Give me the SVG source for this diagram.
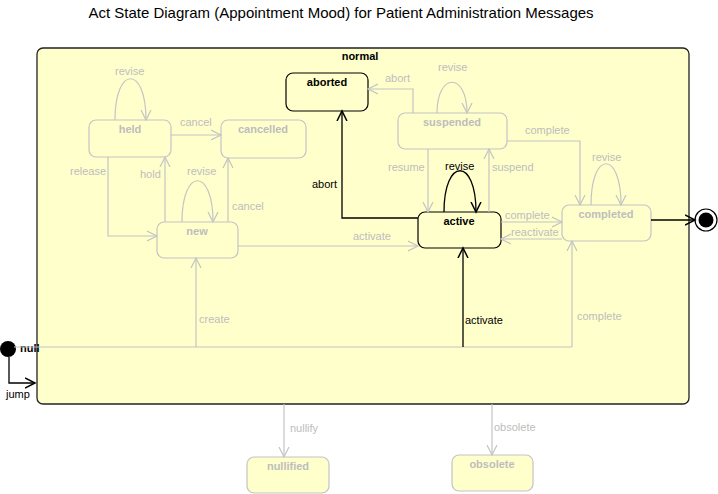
<svg xmlns="http://www.w3.org/2000/svg" width="718" height="494" viewBox="0 0 718 494">
<style>
text{font-family:"Liberation Sans",Arial,sans-serif;font-size:11px}
.t{font-size:15px;fill:#000}
.g{fill:#BDBDBD}
.k{fill:#000}
.sn{font-weight:bold;text-anchor:middle}
.st{fill:#FFFFCC;stroke:#C4C4C4;stroke-width:1.2}
.sb{fill:#FFFFCC;stroke:#000;stroke-width:1.2}
.eg{fill:none;stroke:#C4C4C4;stroke-width:1.2}
.ek{fill:none;stroke:#000;stroke-width:1.3}
.ag{marker-end:url(#ag)}
.ak{marker-end:url(#ak)}
</style>
<defs>
<marker id="ag" markerUnits="userSpaceOnUse" markerWidth="12" markerHeight="12" refX="10" refY="5" orient="auto" viewBox="0 0 12 10">
<path d="M0,0 L10,5 L0,10" fill="none" stroke="#C4C4C4" stroke-width="1.2"/>
</marker>
<marker id="ak" markerUnits="userSpaceOnUse" markerWidth="12" markerHeight="12" refX="10" refY="5" orient="auto" viewBox="0 0 12 10">
<path d="M0,0 L10,5 L0,10" fill="none" stroke="#000" stroke-width="1.5"/>
</marker>
</defs>
<rect width="718" height="494" fill="#fff"/>
<text class="t" x="341" y="18" text-anchor="middle">Act State Diagram (Appointment Mood) for Patient Administration Messages</text>
<g id="normal">
<rect x="37" y="48" width="652" height="356" rx="6" fill="#FFFFCC" stroke="#222" stroke-width="1.3"/>
<text class="k sn" x="360" y="60">normal</text>
</g>
<g id="held"><rect class="st" x="89" y="120" width="82" height="37" rx="7"/><text class="g sn" x="130" y="133">held</text></g>
<g id="cancelled"><rect class="st" x="221" y="120" width="85" height="38" rx="7"/><text class="g sn" x="263" y="133">cancelled</text></g>
<g id="new"><rect class="st" x="157" y="222" width="81" height="36" rx="7"/><text class="g sn" x="197" y="235">new</text></g>
<g id="aborted"><rect class="sb" x="286" y="73" width="82" height="38" rx="7"/><text class="k sn" x="327" y="86">aborted</text></g>
<g id="suspended"><rect class="st" x="398" y="113" width="109" height="36" rx="7"/><text class="g sn" x="452" y="126">suspended</text></g>
<g id="active"><rect class="sb" x="418" y="212" width="83" height="36" rx="7"/><text class="k sn" x="459" y="225">active</text></g>
<g id="completed"><rect class="st" x="562" y="205" width="89" height="36" rx="7"/><text class="g sn" x="606" y="218">completed</text></g>
<g id="nullified"><rect class="st" x="247" y="457" width="82" height="36" rx="7"/><text class="g sn" x="288" y="470">nullified</text></g>
<g id="obsolete"><rect class="st" x="452" y="455" width="81" height="36" rx="7"/><text class="g sn" x="492" y="468">obsolete</text></g>
<g id="initial"><circle cx="8" cy="349" r="8" fill="#000"/><text class="k" x="20" y="352" font-weight="bold">null</text></g>
<g id="final"><circle cx="706" cy="220" r="11" fill="#fff" stroke="#000" stroke-width="1.2"/><circle cx="706" cy="220" r="7.5" fill="#000"/></g>
<g id="connectors">
<path class="eg ag" d="M115,120 C115,65 146,65 146,120"/>
<path class="eg ag" d="M171,135 L221,135"/>
<path class="eg ag" d="M108,157 L108,236 L157,236"/>
<path class="eg ag" d="M165,222 L165,157"/>
<path class="eg ag" d="M182,222 C182,167 213,167 213,222"/>
<path class="eg ag" d="M228,222 L228,158"/>
<path class="eg ag" d="M238,246 L418,246"/>
<path class="ek ak" d="M418,218 L342,218 L342,111"/>
<path class="eg ag" d="M413,113 L413,89 L368,89"/>
<path class="eg ag" d="M437,113 C437,72 467,72 467,113"/>
<path class="eg ag" d="M428,149 L428,212"/>
<path class="eg ag" d="M489,212 L489,149"/>
<path class="ek ak" d="M444,212 C444,157 476,157 476,212"/>
<path class="eg ag" d="M507,141 L580,141 L580,205"/>
<path class="eg ag" d="M591,205 C591,150 621,150 621,205"/>
<path class="eg ag" d="M501,222 L562,222"/>
<path class="eg ag" d="M562,239 L501,239"/>
<path class="ek ak" d="M651,220 L695,220"/>
<path class="eg" d="M14,347 L572,347"/>
<path class="eg ag" d="M196,347 L196,258"/>
<path class="ek ak" d="M463,347 L463,248"/>
<path class="eg ag" d="M572,347 L572,241"/>
<path class="ek ak" d="M9,357 L9,383 L35,383"/>
<path class="eg ag" d="M284,404 L284,457"/>
<path class="eg ag" d="M492,404 L492,455"/>
<text class="g" x="115" y="75">revise</text>
<text class="g" x="180" y="126">cancel</text>
<text class="g" x="70" y="175">release</text>
<text class="g" x="140" y="178">hold</text>
<text class="g" x="187" y="175">revise</text>
<text class="g" x="232" y="210">cancel</text>
<text class="g" x="353" y="240">activate</text>
<text class="k" x="312" y="188">abort</text>
<text class="g" x="385" y="82">abort</text>
<text class="g" x="438" y="71">revise</text>
<text class="g" x="388" y="171">resume</text>
<text class="g" x="492" y="171">suspend</text>
<text class="k" x="445" y="170">revise</text>
<text class="g" x="525" y="134">complete</text>
<text class="g" x="592" y="161">revise</text>
<text class="g" x="505" y="219">complete</text>
<text class="g" x="511" y="236">reactivate</text>
<text class="g" x="199" y="323">create</text>
<text class="k" x="465" y="324">activate</text>
<text class="g" x="577" y="320">complete</text>
<text class="g" x="290" y="432">nullify</text>
<text class="g" x="494" y="431">obsolete</text>
<text class="k" x="6" y="398">jump</text>
</g>
</svg>
